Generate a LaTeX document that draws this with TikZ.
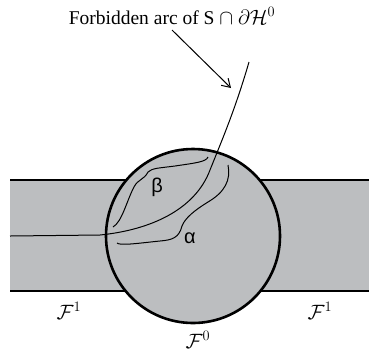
\documentclass[tikz,border=0pt]{standalone}
\usepackage{fontspec}
\usetikzlibrary{arrows.meta}
\setmainfont{Liberation Serif}
\newfontfamily\greekfont{Liberation Sans}
\begin{document}
\begin{tikzpicture}[x=1pt,y=-1pt,
  thickline/.style={line width=2.6pt,black},
  thinline/.style={line width=1pt,black},
  bracestyle/.style={line width=1pt,black},
  lbl/.style={inner sep=0pt,font=\fontsize{21}{24}\selectfont},
  glbl/.style={inner sep=0pt,font=\greekfont\fontsize{20}{24}\selectfont}]
\useasboundingbox (0,0) rectangle (369,360);
\definecolor{fillgray}{RGB}{188,190,192}
\coordinate (C) at (193,236);
% band
\fill[fillgray] (10,180) rectangle (369,291);
\fill[fillgray] (C) circle (87);
% band lines outside circle
\coordinate (BL1) at (10,180);
\coordinate (BL2) at (10,291);
\coordinate (BR1) at (369,180);
\coordinate (BR2) at (369,291);
\draw[thickline] (BL1) -- ({193-sqrt(87*87-56*56)},180);
\draw[thickline] ({193+sqrt(87*87-56*56)},180) -- (BR1);
\draw[thickline] (BL2) -- ({193-sqrt(87*87-55*55)},291);
\draw[thickline] ({193+sqrt(87*87-55*55)},291) -- (BR2);
\draw[thickline] (C) circle (87);
% curve
\coordinate (S0) at (10,236);
\coordinate (S1) at (249,62);
\draw[thinline] (S0) -- (100,235) .. controls (150,230) and (195,210) .. (210,170)
  .. controls (222,140) and (235,110) .. (S1);
% arrow
\node[inner sep=0pt, font=\fontsize{19.5}{22}\selectfont] (T) at (172,16) {Forbidden arc of S $\cap$ $\partial\mathcal{H}^0$};
\coordinate (A1) at (172,30);
\coordinate (A2) at (231,88);
\draw[thinline,-{Straight Barb[length=8pt,width=10pt]}] (A1) -- (A2);
% beta brace
\draw[bracestyle] (113,227) .. controls (122,222) and (127,200) .. (134,187)
  .. controls (138,179) and (144,180) .. (148,172)
  .. controls (152,168) and (160,168) .. (175,166)
  .. controls (195,163) and (206,162) .. (208,157);
% alpha brace
\draw[bracestyle] (117,243) .. controls (120,246) and (140,243) .. (160,241)
  .. controls (172,240) and (179,238) .. (182,226)
  .. controls (185,218) and (195,210) .. (208,202)
  .. controls (225,192) and (231,180) .. (228,165);
\node[glbl] (beta) at (157,187) {β};
\node[glbl] (alpha) at (190,238) {α};
\node[lbl] (F1l) at (69,311) {$\mathcal{F}^1$};
\node[lbl] (F1r) at (320,311) {$\mathcal{F}^1$};
\node[lbl] (F0) at (198,340) {$\mathcal{F}^0$};
\end{tikzpicture}
\end{document}
